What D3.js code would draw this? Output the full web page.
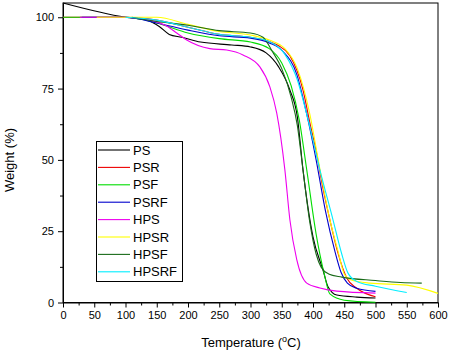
<!DOCTYPE html>
<html>
<head>
  <script src="https://d3js.org/d3.v7.js"></script>
  <style>
    html, body {
      margin: 0px;
      padding: 0px;
      background: #fff;
      font-family: "Liberation Sans", Arial, sans-serif;
    }
    .axis text {
      font-size: 11px;
      font-family: "Liberation Sans", Arial, sans-serif;
    }
    .axisLabel {
      font-size: 13px;
    }
    .legend text {
      font-size: 13px;
    }
  </style>
</head>
<body>
  <div id="chart"></div>
  <script>
    const width = 450;
    const height = 353;
    const margin = {top: 3, left: 63, right: 12, bottom: 50.5};

    // series names and colours (legend order)
    const names = ["PS", "PSR", "PSF", "PSRF", "HPS", "HPSR", "HPSF", "HPSRF"];
    const colors = ["#000000", "#ee0000", "#00dd00", "#0000cc", "#ee00ee", "#ffff00", "#1a6b1a", "#00eeff"];

    // temperature (°C) / weight (%)
    const psT = [0, 100, 135, 155, 170, 190, 220, 270, 300, 325, 345, 363, 375, 384, 400, 416, 424, 438, 470, 500];
    const psW = [105, 100, 99, 96.6, 94, 93, 91.3, 90.3, 89.6, 87.5, 82.6, 74.5, 65, 46.5, 23, 11.4, 5.5, 2.6, 1.9, 1.6];

    const psrT = [0, 100, 150, 200, 250, 300, 330, 345, 363, 384, 395, 406, 416, 427, 440, 454, 470, 500];
    const psrW = [100, 100, 99, 96.5, 94, 93, 91.5, 90, 86.5, 74.5, 63, 52, 40, 29, 17.3, 8.6, 5, 2];

    const psfT = [0, 100, 150, 200, 250, 300, 330, 350, 365, 378, 390, 405, 418, 427, 450, 500];
    const psfW = [100, 100, 98, 94.5, 92.5, 91.3, 89, 84, 76, 64, 46.5, 24, 10, 3, 0.8, 0.1];

    const psrfT = [30, 100, 150, 200, 250, 300, 330, 352, 374, 390, 405, 420, 435, 445, 455, 470, 500];
    const psrfW = [100, 100, 98, 95.5, 93.5, 92.7, 91, 88, 80, 66, 50, 32, 18, 10.5, 6.8, 5, 3.9];

    const hpsT = [27, 100, 140, 165, 182, 198, 235, 262, 288, 315, 331, 342, 355, 363, 374, 390, 411, 438, 500];
    const hpsW = [100, 100, 99, 97, 94.5, 92, 89, 88.5, 86.8, 82.6, 75.6, 66.4, 46.5, 29, 15, 6.8, 5.1, 4, 3.3];

    const hpsrT = [54, 100, 150, 200, 250, 300, 330, 355, 375, 395, 410, 427, 440, 450, 460, 491, 550, 600];
    const hpsrW = [100, 100, 100, 97.5, 95, 93.8, 92, 89, 82, 66, 48, 29, 18, 10, 8, 6.8, 6.1, 3.2];

    const hpsfT = [110, 150, 200, 250, 300, 320, 335, 350, 365, 375, 384, 395, 405, 413, 425, 446, 500, 540, 574];
    const hpsfW = [100, 98.5, 97.2, 95.3, 94.5, 93, 88, 82, 72, 62, 46.5, 28, 17, 12.4, 10, 8.9, 7.7, 7, 6.8];

    const hpsrfT = [100, 150, 200, 250, 300, 330, 355, 375, 390, 411, 432, 446, 456, 470, 500, 550];
    const hpsrfW = [100, 99, 96.5, 94, 93, 91.5, 87, 78, 66, 46.5, 29, 17, 10.3, 7.4, 5.7, 3.5];

    const temps = [psT, psrT, psfT, psrfT, hpsT, hpsrT, hpsfT, hpsrfT];
    const weights = [psW, psrW, psfW, psrfW, hpsW, hpsrW, hpsfW, hpsrfW];

    const xTicks = [0, 50, 100, 150, 200, 250, 300, 350, 400, 450, 500, 550, 600];
    const yTicks = [0, 25, 50, 75, 100];

    const svg = d3.select("#chart")
      .append("svg")
      .attr("width", width)
      .attr("height", height);

    const xScale = d3.scaleLinear()
      .domain([0, 600])
      .range([margin.left, width - margin.right]);

    const yScale = d3.scaleLinear()
      .domain([0, 105])
      .range([height - margin.bottom, margin.top]);

    // minor ticks first, then major ones with labels
    svg.append("g")
      .attr("class", "axis")
      .attr("transform", `translate(0,${height - margin.bottom})`)
      .call(d3.axisBottom(xScale).tickValues(d3.range(25, 600, 50)).tickSize(3).tickFormat(""))
      .call(g => g.select(".domain").remove());

    svg.append("g")
      .attr("class", "axis")
      .attr("transform", `translate(${margin.left},0)`)
      .call(d3.axisLeft(yScale).tickValues([12.5, 37.5, 62.5, 87.5]).tickSize(3).tickFormat(""))
      .call(g => g.select(".domain").remove());

    svg.append("g")
      .attr("class", "axis")
      .attr("transform", `translate(0,${height - margin.bottom})`)
      .call(d3.axisBottom(xScale).tickValues(xTicks).tickSize(5).tickSizeOuter(0).tickPadding(4))
      .call(g => g.selectAll("text").attr("fill", "#000"));

    svg.append("g")
      .attr("class", "axis")
      .attr("transform", `translate(${margin.left},0)`)
      .call(d3.axisLeft(yScale).tickValues(yTicks).tickSize(5).tickSizeOuter(0).tickPadding(4))
      .call(g => g.selectAll("text").attr("fill", "#000"));

    // frame on top and right
    svg.append("rect")
      .attr("x", margin.left)
      .attr("y", margin.top)
      .attr("width", width - margin.right - margin.left)
      .attr("height", height - margin.bottom - margin.top)
      .attr("fill", "none")
      .attr("stroke", "#000")
      .attr("stroke-width", 1);

    const line = d3.line()
      .x(d => xScale(d[0]))
      .y(d => yScale(d[1]))
      .curve(d3.curveMonotoneX);

    names.forEach(function(name, i) {
      const pts = temps[i].map((t, j) => [t, weights[i][j]]);
      svg.append("path")
        .datum(pts)
        .attr("fill", "none")
        .attr("stroke", colors[i])
        .attr("stroke-width", 1.1)
        .attr("d", line);
    });

    // legend
    const legend = svg.append("g").attr("class", "legend");
    legend.append("rect")
      .attr("x", 96.5)
      .attr("y", 141.5)
      .attr("width", 86)
      .attr("height", 140)
      .attr("fill", "#fff")
      .attr("stroke", "#000");

    names.forEach(function(name, i) {
      const y = 150 + i * 17.4;
      legend.append("line")
        .attr("x1", 98).attr("x2", 130)
        .attr("y1", y).attr("y2", y)
        .attr("stroke", colors[i])
        .attr("stroke-width", 1.1);
      legend.append("text")
        .attr("x", 133)
        .attr("y", y + 4.6)
        .text(name);
    });

    // axis labels
    const xl = svg.append("text")
      .attr("class", "axisLabel")
      .attr("x", 251)
      .attr("y", 347)
      .attr("text-anchor", "middle");
    xl.append("tspan").text("Temperature (");
    xl.append("tspan").attr("dy", -5).attr("font-size", "9px").text("o");
    xl.append("tspan").attr("dy", 5).text("C)");

    svg.append("text")
      .attr("class", "axisLabel")
      .attr("x", -160)
      .attr("y", 14)
      .attr("text-anchor", "middle")
      .attr("transform", "rotate(-90)")
      .text("Weight (%)");
  </script>
</body>
</html>
